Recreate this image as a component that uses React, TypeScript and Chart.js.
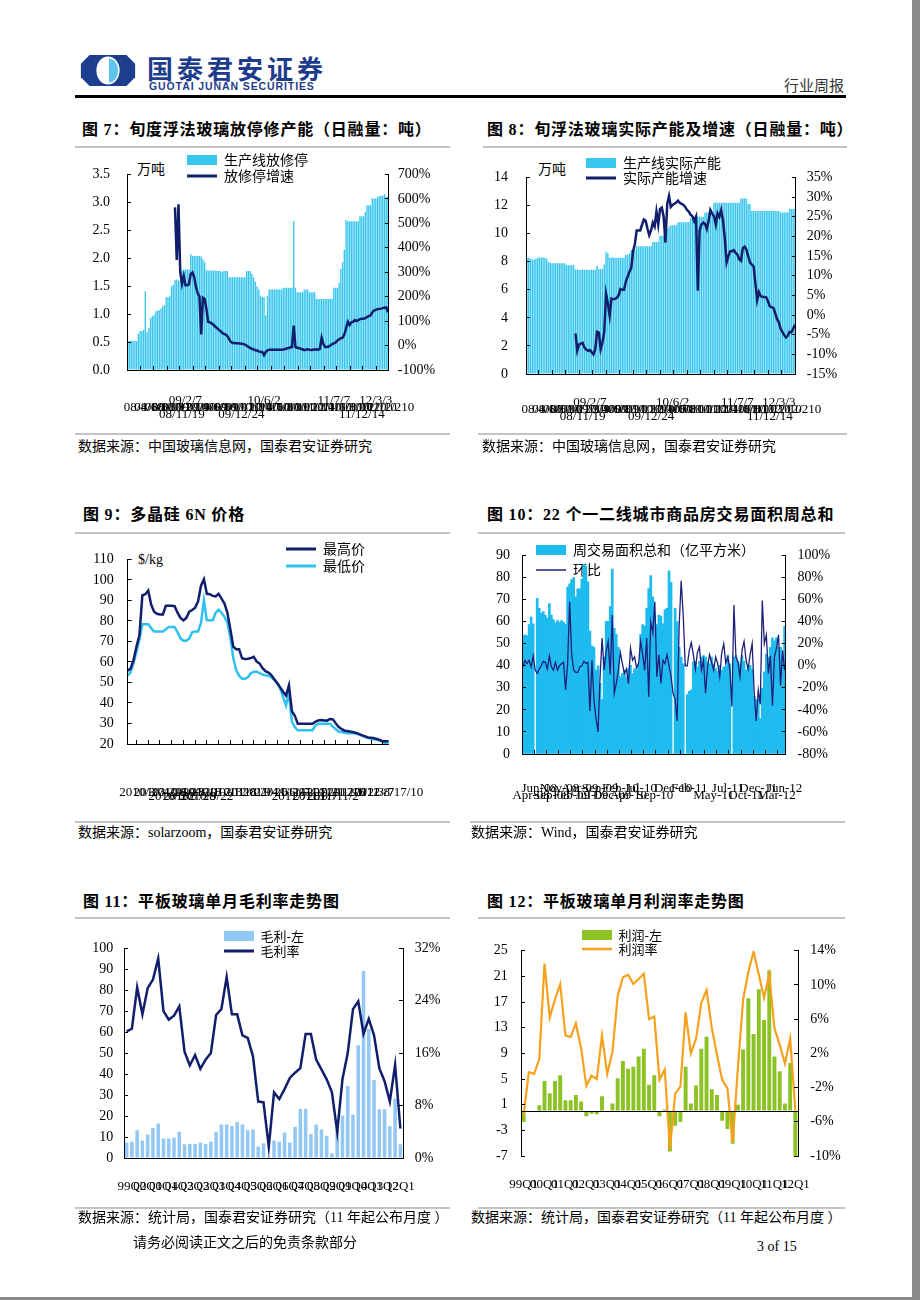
import React, { useEffect, useRef } from 'react';
import { Chart, registerables } from 'chart.js';

Chart.register(...registerables);

const MIX = "'Liberation Serif', 'Noto Sans CJK SC', serif";
const CJK = "'Noto Sans CJK SC', sans-serif";
const NAVY = '#101e6c';
const CYAN = '#38c6ef';
const CYAN10 = '#1ebbef';
const LIGHT = '#2ec0ee';
const BLUE11 = '#93c8f5';
const GREEN = '#8cc224';
const ORANGE = '#f5a11c';

// ---------------- Figure 7 : 放修停产能 ----------------
const c7Bars = [
  0.52, 0.52, 0.53, 0.52, 0.52, 0.52, 0.65, 0.70, 0.70, 0.72, 1.41, 0.68, 0.75,
  0.93, 0.96, 0.98, 1.05, 1.06, 1.07, 1.10, 1.14, 1.16, 1.30, 1.30, 1.32, 1.50, 1.52, 1.61, 1.62, 1.60, 1.62,
  1.78, 1.80, 1.80, 1.80, 1.80, 2.07, 2.04, 2.04, 2.04, 2.04, 2.04, 2.03, 1.98, 1.93,
  1.78, 1.78, 1.78, 1.78, 1.78, 1.78, 1.77, 1.77, 1.77, 1.75, 1.77, 1.77, 1.77,
  1.66, 1.66, 1.66, 1.66, 1.66, 1.66, 1.66, 1.66, 1.66, 1.66,
  1.77, 1.77, 1.77, 1.72, 1.66, 1.58, 1.50, 1.44, 1.33, 1.30, 1.30, 0.98, 1.33,
  1.44, 1.44, 1.44, 1.44, 1.44, 1.44, 1.44, 1.44, 1.47, 1.47, 1.47, 1.47, 1.47, 1.47,
  2.66, 1.47, 1.39, 1.39, 1.39, 1.39, 1.44, 1.44, 1.44, 1.39, 1.39, 1.39, 1.39,
  1.27, 1.27, 1.27, 1.27, 1.27, 1.27, 1.27, 1.27, 1.27, 1.27,
  1.47, 1.47, 1.47, 1.56, 1.81, 1.93, 2.15, 2.69, 2.66, 2.66, 2.66, 2.66, 2.66, 2.66, 2.66,
  2.75, 2.75, 2.75, 2.83, 2.95, 2.95, 2.95, 3.07, 3.07, 3.07, 3.09, 3.12, 3.12, 3.12, 3.15, 3.10, 3.10,
];
const c7Growth = [
  ...Array(27).fill(null),
  565, 350, 578, 300, 253, 285, 247, 247, 250, 292,
  299, 280, 240, 214, 201, 45, 195, 190, 150, 97,
  95, 91, 85, 78, 72, 65, 60, 52, 48, 45,
  39, 26, 15, 10, 10, 9, 9, 8, 7, 6,
  4, 0, -5, -10, -13, -16, -19, -20, -24, -26,
  -26, -39, -26, -20, -17, -17, -17, -17, -17, -17,
  -17, -17, -16, -14, -12, -10, -8, -6, 82, -6,
  -9, -10, -13, -15, -19, -17, -15, -17, -18, -17,
  -16, -15, -17, -14, 32, 6, -6, -6, -4, 0,
  6, 9, 13, 20, 26, 30, 32, 45, 70, 97,
  84, 95, 97, 104, 100, 104, 108, 110, 110, 112,
  117, 120, 123, 135, 143, 146, 149, 150, 151, 153,
  155, 156, 136,
];
const c7RowA = [[33, '09/2/7'], [78, '10/6/2'], [118, '11/7/7'], [142, '12/3/3']];
const c7RowB = [
  [9, '08/4/10'], [15, '08/6/10'], [21, '08/8/10'], [27, '08/10/10'], [33, '08/12/10'], [39, '09/2/10'],
  [45, '09/4/10'], [51, '09/6/10'], [57, '09/8/10'], [63, '09/10/10'], [69, '09/12/10'], [75, '10/2/10'],
  [81, '10/4/10'], [87, '10/6/10'], [93, '10/8/10'], [99, '10/10/10'], [105, '10/12/10'], [111, '11/2/10'],
  [117, '11/4/10'], [123, '11/6/10'], [129, '11/8/10'], [135, '11/10/10'], [141, '11/12/10'], [149, '12/12/210'],
];
const c7RowC = [[31, '08/11/19'], [65, '09/12/24'], [134, '11/12/14']];

// ---------------- Figure 8 : 实际产能 ----------------
const c8Bars = [
  8.27, 8.30, 8.20, 8.15, 8.15, 8.20, 8.27, 8.30, 8.27, 8.30, 8.27, 8.20, 7.95, 7.93,
  7.88, 7.88, 7.88, 7.88, 7.88, 7.88, 7.88, 7.88,
  7.75, 7.75, 7.75, 7.75, 7.75,
  7.45, 7.43, 7.40, 7.43, 7.45, 7.40, 7.43, 7.43, 7.40, 7.45, 7.43, 7.43,
  7.70, 7.48, 7.48, 7.48, 7.80, 8.70, 8.60,
  8.27, 8.27, 8.27, 8.27, 8.27, 8.27, 8.27, 8.27, 8.27,
  8.50, 8.50, 8.60, 8.83, 8.83, 8.83,
  9.10, 9.10, 9.10, 9.10, 9.10, 9.10, 9.10, 9.10, 9.10,
  9.40, 9.40, 9.40, 9.40, 9.84, 9.84, 9.84, 9.84, 10.3, 10.5,
  10.6, 10.6, 10.6, 10.6, 10.8, 10.8, 10.8, 10.8, 10.8, 10.8, 10.8,
  11.1, 11.1, 11.1, 11.2, 11.2, 11.2, 11.2, 11.2, 11.5, 11.5, 11.5, 11.5, 11.5,
  12.2, 12.2, 12.2, 12.2, 12.2, 12.2, 12.2, 12.2, 12.2, 12.2, 12.2, 12.2, 12.2, 12.2, 12.2,
  12.5, 12.5, 12.5, 12.5, 12.1, 12.1,
  11.6, 11.6, 11.6, 11.6, 11.6, 11.6, 11.6, 11.6, 11.6, 11.6, 11.6, 11.6, 11.6, 11.6, 11.6, 11.6,
  11.5, 11.5, 11.5, 11.5, 11.5, 11.75, 11.75, 11.75, 11.75,
];
const c8Growth = [
  ...Array(27).fill(null),
  -4.7, -9.1, -7.5, -7.3, -7.1, -8.3, -8.8, -9.1, -8.9, -9.5,
  -10, -8.7, -4.3, -4.5, -8.7, -7, -4.3, 5.4, 3, -0.2,
  4.2, 4, 4.1, 4.4, 5, 6.6, 6.4, 6.4, 8.5, 9.8,
  11, 12, 16.2, 18, 21.5, 21.5, 21.5, 23, 24.3, 24,
  22, 20.3, 21.5, 23.5, 22.5, 26.3, 23, 27, 27.3, 25,
  18.4, 28.3, 30.3, 27.5, 28, 28.3, 28.6, 29.1, 28.5, 28.3,
  28, 27.5, 26.7, 26.3, 25.5, 25.1, 23.9, 25, 6.2, 21.5,
  23, 23.5, 23.2, 21.9, 24, 26.7, 25.8, 25.1, 23, 25.9,
  25, 26.7, 24, 19.5, 13.4, 15, 16.2, 16.2, 16.5, 15.8,
  15.4, 14.2, 13.8, 17, 17.4, 16.6, 15, 13.4, 12.8, 12.4,
  8.2, 3.8, 5.8, 4.8, 4.6, 4.6, 4.5, 3.5, 2.2, 2.0,
  1.8, 0.5, -1.0, -1.8, -3.5, -4.3, -5.1, -5.7, -5.3, -4.3,
  -4.4, -3.5, -2.5,
];
const c8RowA = [[35, '09/2/7'], [81, '10/6/2'], [117, '11/7/7'], [140, '12/3/3']];
const c8RowB = [
  [8, '08/4/10'], [14, '08/6/10'], [20, '08/8/10'], [26, '08/10/10'], [32, '08/12/10'], [38, '09/2/10'],
  [44, '09/4/10'], [50, '09/6/10'], [56, '09/8/10'], [62, '09/10/10'], [68, '09/12/10'], [74, '10/2/10'],
  [80, '10/4/10'], [86, '10/6/10'], [92, '10/8/10'], [98, '10/10/10'], [104, '10/12/10'], [110, '11/2/10'],
  [116, '11/4/10'], [122, '11/6/10'], [128, '11/8/10'], [134, '11/10/10'], [140, '11/12/10'], [149, '12/12/210'],
];
const c8RowC = [[31, '08/11/19'], [69, '09/12/24'], [135, '11/12/14']];

// ---------------- Figure 9 : 多晶硅价格 ----------------
const c9High = [
  55.7, 56.8, 61, 67.5, 73, 92.5, 93, 94.8, 88, 84.5,
  83.5, 83.1, 83.1, 87.4, 87.4, 87.4, 87.2, 84, 81.5, 80.3,
  81.5, 84.5, 85.3, 86.5, 89.5, 97.2, 100.3, 93.2, 93, 92.2,
  92, 93.2, 90.9, 88.5, 84, 76, 67.5, 66.2, 66.2, 61.8,
  61.5, 61.6, 61.9, 62.5, 60.2, 59.2, 57, 55.5, 54.8, 53.6,
  51.6, 49.8, 47.6, 45.5, 43.6, 48.6, 36, 33.8, 29.9, 29.9,
  29.9, 29.9, 29.9, 29.9, 30.8, 31.5, 31.7, 31.5, 31.4, 32.2,
  32, 30, 28.3, 27.2, 26.5, 26.3, 26, 25.7, 25.4, 24.8,
  24.2, 23.7, 23.2, 23, 22.8, 22.4, 22, 21.3, 21.3, 21.3,
];
const c9Low = [
  53.3, 55, 59.5, 65, 71, 78.4, 78.4, 78.4, 76.5, 74.9,
  74.9, 74.9, 74.9, 76, 77.1, 77.1, 77.1, 74.5, 71.5, 70.3,
  70.3, 71.5, 74.5, 74.9, 74.9, 79, 90.1, 80.3, 80.3, 80.3,
  84, 85.4, 84, 82, 79.2, 72, 62, 56, 53.3, 51.8,
  51.8, 52.5, 54.5, 55.2, 55.2, 54.6, 53.8, 53.5, 53.3, 52.5,
  51.2, 49.4, 47, 43, 38.8, 45, 31, 28.3, 26.7, 26.7,
  26.7, 26.7, 26.7, 26.7, 29, 29.9, 29.9, 29.9, 29.9, 29.9,
  28.5, 27.2, 26, 25.8, 25.5, 25.3, 25.3, 25.3, 25, 24.6,
  24, 23.4, 23, 22.6, 22.3, 22, 21.6, 21, 20.3, 20.2,
];
const c9Row1 = [
  [5, '2010/3/3'], [11, '2010/4/28'], [17, '2010/6/23'], [23, '2010/8/18'], [29, '2010/10/13'],
  [35, '2010/12/8'], [41, '2011/2/9'], [47, '2011/4/6'], [53, '2011/6/1'], [59, '2011/7/27'],
  [65, '2011/9/21'], [71, '2011/11/16'], [77, '2012/1/11'], [83, '2012/3/7'], [89, '2012/8/17/10'],
];
const c9Row2 = [
  [15, '2010/6/2'], [21, '2010/7/28'], [27, '2010/9/22'], [58, '2011/7/13'], [64, '2011/9/7'], [70, '2011/11/2'],
];

// ---------------- Figure 10 : 商品房交易面积 ----------------
const c10Area = [
  53.5, 54, 53.5, 58.6, 62, 59, 0, 70.5, 66, 63.8,
  64.5, 63, 61.6, 68.2, 63, 60.9, 59.4, 60.5, 59.8, 60.5,
  59.8, 58.6, 75.6, 77.1, 79, 80, 71.2, 74.9, 74.9, 79.3,
  86, 85.2, 78, 55.7, 49, 48.3, 38, 40, 32, 24.7,
  43.9, 60.1, 60.1, 66.8, 83.8, 57, 54.2, 48.3, 35, 36.5,
  38, 35, 38.7, 40.2, 36.5, 38.7, 38, 40.9, 54.2, 58.6,
  58, 66, 75, 80.8, 71.2, 63, 58.6, 63, 62.5, 59,
  65.3, 66, 83, 77.8, 0, 66, 60, 48.3, 43.9, 40.9,
  0, 26.9, 28.4, 29.1, 41.7, 42, 39.4, 42, 43.9, 44.6,
  43.9, 41.7, 40.9, 43.9, 40.9, 38.7, 37.5, 40.2, 38, 39.4,
  39.7, 44.6, 40.9, 0, 43.9, 44.6, 42, 40.9, 44.6, 42,
  38, 39.4, 40.2, 38.5, 26.1, 24.7, 25, 16.1, 29.8, 37.2,
  45.3, 43.9, 48.3, 52.7, 51.3, 52.7, 48.3, 48.3, 43.9, 57.9,
];
const c10Chg = [
  -1, 5, 2, 5, -1, 9, -4, -7, -3, 0,
  4, 3, -3, 9, -1, -4, 3, -4, 0, 2,
  3, -22, 2, 58, 10, -4, -6, -6, -1, 0,
  4, 2, 3, -41, 5, -31, -48, -60, -10, 25,
  -4, 13, 22, -8, 46, -25, -16, -4, 12, 2,
  -7, -3, -16, 16, 5, 8, -2, 2, 22, 10,
  -4, 25, -28, 40, 30, 58, -10, 10, -16, 5,
  2, 10, 0, -10, -25, -30, -50, 36, 77, 46,
  0, 0, 14, 21, 10, -3, 12, 17, -4, 5,
  -25, -1, 10, 3, -4, 8, 2, -10, 12, 20,
  2, 8, -3, -37, 55, 8, 3, -10, 14, 22,
  5, -3, 10, 20, -24, -50, -22, -35, 59, 20,
  28, -7, 9, -36, 8, 16, 28, -18, 14, -4,
];
const c10RowU = [
  [8, 'Jun-08'], [18, 'Nov-08'], [28, 'Apr-09'], [38, 'Sep-09'], [48, 'Feb-10'], [58, 'Jul-10'],
  [74, 'Dec-10'], [82, 'Feb-11'], [101, 'Jul-11'], [116, 'Dec-11'], [129, 'Jun-12'],
];
const c10RowL = [
  [4, 'Apr-08'], [14, 'Sep-08'], [24, 'Feb-09'], [34, 'Jul-09'], [44, 'Dec-09'], [52, 'Apr-10'],
  [65, 'Sep-10'], [94, 'May-11'], [110, 'Oct-11'], [125, 'Mar-12'],
];

// ---------------- Figures 11 & 12 : quarterly ----------------
const quarters = [
  '99Q1', '99Q2', '99Q3', '99Q4', '00Q1', '00Q2', '00Q3', '00Q4', '01Q1', '01Q2', '01Q3', '01Q4',
  '02Q1', '02Q2', '02Q3', '02Q4', '03Q1', '03Q2', '03Q3', '03Q4', '04Q1', '04Q2', '04Q3', '04Q4',
  '05Q1', '05Q2', '05Q3', '05Q4', '06Q1', '06Q2', '06Q3', '06Q4', '07Q1', '07Q2', '07Q3', '07Q4',
  '08Q1', '08Q2', '08Q3', '08Q4', '09Q1', '09Q2', '09Q3', '09Q4', '10Q1', '10Q2', '10Q3', '10Q4',
  '11Q1', '11Q2', '11Q3', '11Q4', '12Q1',
];
const c11Gross = [
  7.3, 7.8, 13.2, 8.3, 11.2, 14.3, 16.4, 9.3, 9.3, 9.7,
  12.5, 6.5, 6.7, 6.7, 7.3, 6.7, 7.8, 12.5, 16, 16,
  15.3, 17.1, 16, 13.2, 13.6, 5.5, 7, 0.8, 8.3, 7.8,
  12.1, 7.3, 14.8, 23.4, 23.4, 11.4, 15.9, 13.6, 10.6, 2.3,
  13.6, 20.2, 34.3, 20.7, 53.7, 89.1, 61.5, 37.1, 23.2, 23.2,
  15.2, 28.3, 6.5,
];
const c11Margin = [
  19.3, 19.7, 26, 21.9, 25.9, 27.2, 30.4, 22.4, 21.1, 21.7,
  23.1, 16.2, 14.1, 15.7, 13.6, 15, 16, 21.8, 22.7, 27.6,
  21.9, 21.9, 18.7, 18.3, 15.5, 8.6, 8.5, 1.7, 10, 9,
  10.5, 12.2, 13, 13.7, 18.9, 18.9, 15, 13.5, 12, 10,
  4, 12, 16, 22.7, 23.9, 18.9, 21.2, 18.7, 13.7, 11.7,
  8.6, 14.2, 4.5,
];
const c12Profit = [
  -1.7, 0.1, -0.15, 0.9, 4.7, 2.8, 4.7, 5.6, 1.7, 1.7,
  2.5, 1.5, -0.8, -0.4, -0.5, 2.3, -0.15, 1.2, 5.1, 7.8,
  6.6, 6.9, 8.5, 9.7, 4.1, 5.6, -0.8, 0.25, -6.3, -2.3,
  -1.7, 6.9, 1.2, 4, 9.7, 11.6, 3.4, 2.5, -1.5, -2.8,
  -5.1, 1, 9.6, 17.6, 12, 19, 14.2, 21.9, 8.5, 6.2,
  1.2, 7.5, -7,
];
const c12Rate = [
  -5.2, -0.2, -0.4, 1.3, 12.5, 6.2, 8.3, 10.1, 4.1, 3.9,
  5.5, 2.6, -1.8, -0.6, -1, 4.1, -0.4, 2.2, 8.7, 10.9,
  11.2, 10.1, 10.7, 11.3, 6, 6.3, -1.1, 0.1, -9.2, -2.7,
  -1.9, 6.8, 2, 3.7, 7.9, 9.4, 5, 1.8, -1.1, -2.1,
  -8.4, 0.3, 8.3, 11.5, 13.9, 11.2, 8.5, 11.2, 4.9, 3,
  0.8, 3.7, -4.7,
];
const c11LabelIdx = [1, 4, 7, 10, 13, 16, 19, 22, 25, 28, 31, 34, 37, 40, 43, 46, 49, 52];
const c12LabelIdx = [0, 4, 8, 12, 16, 20, 24, 28, 32, 36, 40, 44, 48, 52];

// ---------------- helpers ----------------
function rowLabels(rows: any[][]) {
  const maps = rows.map((r) => new Map(r.map((p: any) => [p[0], p[1]])));
  return (i: number) => {
    const lines = maps.map((m) => (m.get(i) as string) || '');
    while (lines.length && lines[lines.length - 1] === '') lines.pop();
    if (lines.length === 0) return '';
    return lines.length === 1 ? lines[0] : lines;
  };
}
function pickLabels(idx: number[], names: string[]) {
  const s = new Set(idx);
  return (i: number) => (s.has(i) ? names[i] : '');
}
const indexLabels = (n: number) => Array.from({ length: n }, (_, i) => String(i));

function canvasBox(g: any) {
  return {
    left: g.L - g.lw,
    top: g.T - g.tp,
    width: g.lw + (g.R - g.L) + g.rw + g.rp,
    height: g.tp + (g.B - g.T) + g.xh,
  };
}

function yAxis(pos: string, a: any, width: number) {
  return {
    type: 'linear',
    position: pos,
    min: a.min,
    max: a.max,
    afterBuildTicks: a.zero
      ? (s: any) => {
          if (!s.ticks.some((t: any) => t.value === 0)) {
            s.ticks.push({ value: 0 });
            s.ticks.sort((p: any, q: any) => p.value - q.value);
          }
        }
      : undefined,
    ticks: {
      stepSize: a.step,
      autoSkip: false,
      padding: a.gap + 4,
      color: '#000',
      font: { family: MIX, size: 14 },
      callback: (v: any) => (a.zero && Number(v) === 0 ? '' : a.fmt(Number(v))),
    },
    grid: {
      z: 1,
      drawOnChartArea: !!a.zero,
      drawTicks: true,
      tickLength: -4,
      tickWidth: 1,
      lineWidth: 1,
      color: (c: any) => (a.zero && c.tick && c.tick.value === 0 ? '#000' : 'rgba(0,0,0,0)'),
      tickColor: (c: any) => (a.zero && c.tick && c.tick.value === 0 ? 'rgba(0,0,0,0)' : '#000'),
    },
    border: { display: true, color: '#000', width: 1, z: 1 },
    afterFit: (s: any) => {
      s.width = width;
    },
  };
}

function xAxis(x: any, height: number) {
  return {
    type: 'category',
    position: 'bottom',
    offset: x.offset,
    ticks: {
      autoSkip: false,
      maxRotation: 0,
      minRotation: 0,
      padding: x.pad,
      color: '#000',
      font: { family: MIX, size: x.size, lineHeight: x.lh / x.size },
      callback: (_v: any, i: number) => x.labelFn(i),
    },
    grid: {
      z: 1,
      offset: x.offset,
      drawOnChartArea: false,
      drawTicks: !!x.tickFn,
      tickLength: -4,
      tickWidth: 1,
      tickColor: (c: any) => (x.tickFn && x.tickFn(c.index) ? '#000' : 'rgba(0,0,0,0)'),
    },
    border: { display: x.border, color: '#000', width: 1, z: 1 },
    afterFit: (s: any) => {
      s.height = height;
    },
  };
}

function legendMover(x: number, y: number, pad: number) {
  return {
    id: 'legendMover',
    afterLayout(chart: any) {
      const lg = chart.legend;
      if (!lg) return;
      lg.left = x - pad;
      lg.top = y - pad;
      lg.right = chart.width;
      lg.bottom = chart.height;
    },
  };
}

function buildConfig(s: any) {
  const box = canvasBox(s.geo);
  const scales: any = { x: xAxis(s.x, s.geo.xh), y: yAxis('left', s.yLeft, s.geo.lw) };
  if (s.yRight) scales.y1 = yAxis('right', s.yRight, s.geo.rw);
  const lg = s.legend;
  return {
    type: s.type,
    data: { labels: s.labels, datasets: s.datasets },
    options: {
      responsive: false,
      animation: false,
      devicePixelRatio: 1,
      events: [],
      layout: { autoPadding: false, padding: { top: s.geo.tp, left: 0, right: s.geo.rp, bottom: 0 } },
      scales,
      plugins: {
        tooltip: { enabled: false },
        legend: {
          display: true,
          position: 'chartArea',
          align: 'start',
          labels: {
            usePointStyle: true,
            pointStyleWidth: 30,
            boxHeight: 10,
            padding: lg.pad,
            color: '#000',
            font: { family: CJK, size: lg.size },
            generateLabels: () =>
              lg.items.map((it: any, i: number) => ({
                text: it.text,
                fillStyle: it.color,
                strokeStyle: it.color,
                lineWidth: it.kind === 'line' ? it.lw : 0,
                pointStyle: it.kind === 'line' ? 'line' : 'rect',
                hidden: false,
                datasetIndex: i,
                fontColor: '#000',
              })),
          },
        },
      },
    },
    plugins: [legendMover(lg.x - box.left, lg.y - box.top, lg.pad)],
  };
}

function Panel({ spec }: { spec: any }) {
  const ref = useRef<HTMLCanvasElement | null>(null);
  const box = canvasBox(spec.geo);
  useEffect(() => {
    if (!ref.current) return;
    const chart = new Chart(ref.current, buildConfig(spec) as any);
    return () => chart.destroy();
  }, []);
  return (
    <canvas
      ref={ref}
      width={box.width}
      height={box.height}
      style={{ position: 'absolute', left: box.left, top: box.top, width: box.width, height: box.height }}
    />
  );
}

const pct = (v: number) => `${v}%`;

// ---------------- panel specs ----------------
const spec7 = {
  geo: { L: 127, T: 165, R: 394, B: 370, lw: 50, rw: 52, tp: 20, xh: 60, rp: 0 },
  type: 'bar',
  labels: indexLabels(c7Bars.length),
  datasets: [
    { type: 'line', label: '放修停增速', data: c7Growth, yAxisID: 'y1', borderColor: NAVY, borderWidth: 2.5, pointRadius: 0, tension: 0, order: 0 },
    { type: 'bar', label: '生产线放修停', data: c7Bars, yAxisID: 'y', backgroundColor: CYAN, borderWidth: 0, barPercentage: 0.78, categoryPercentage: 1, order: 1 },
  ],
  yLeft: { min: 0, max: 3.5, step: 0.5, fmt: (v: number) => v.toFixed(1), gap: 17 },
  yRight: { min: -100, max: 700, step: 100, fmt: pct, gap: 9 },
  x: { pad: 31.5, size: 13, lh: 7, labelFn: rowLabels([c7RowA, c7RowB, c7RowC]), tickFn: (i: number) => i > 0 && (i % 15 === 0 || i % 15 === 8), border: true, offset: true },
  legend: { x: 187, y: 153, pad: 2, size: 14, items: [{ text: '生产线放修停', color: CYAN, kind: 'rect' }, { text: '放修停增速', color: NAVY, kind: 'line', lw: 3 }] },
};

const spec8 = {
  geo: { L: 526, T: 167, R: 799, B: 374, lw: 50, rw: 52, tp: 20, xh: 60, rp: 0 },
  type: 'bar',
  labels: indexLabels(c8Bars.length),
  datasets: [
    { type: 'line', label: '实际产能增速', data: c8Growth, yAxisID: 'y1', borderColor: NAVY, borderWidth: 2.5, pointRadius: 0, tension: 0, order: 0 },
    { type: 'bar', label: '生产线实际产能', data: c8Bars, yAxisID: 'y', backgroundColor: CYAN, borderWidth: 0, barPercentage: 0.78, categoryPercentage: 1, order: 1 },
  ],
  yLeft: { min: 0, max: 14, step: 2, fmt: (v: number) => String(v), gap: 18 },
  yRight: { min: -15, max: 35, step: 5, fmt: pct, gap: 11 },
  x: { pad: 29.5, size: 13, lh: 7, labelFn: rowLabels([c8RowA, c8RowB, c8RowC]), tickFn: (i: number) => i > 0 && (i % 15 === 0 || i % 15 === 7), border: true, offset: true },
  legend: { x: 586, y: 156, pad: 1, size: 14, items: [{ text: '生产线实际产能', color: CYAN, kind: 'rect' }, { text: '实际产能增速', color: NAVY, kind: 'line', lw: 3 }] },
};

const spec9 = {
  geo: { L: 127, T: 553, R: 424, B: 744, lw: 50, rw: 0, tp: 20, xh: 70, rp: 50 },
  type: 'line',
  labels: indexLabels(c9High.length),
  datasets: [
    { label: '最高价', data: c9High, yAxisID: 'y', borderColor: NAVY, borderWidth: 2.5, pointRadius: 0, tension: 0, order: 0 },
    { label: '最低价', data: c9Low, yAxisID: 'y', borderColor: LIGHT, borderWidth: 2.5, pointRadius: 0, tension: 0, order: 1 },
  ],
  yLeft: { min: 20, max: 110, step: 10, fmt: (v: number) => String(v), gap: 14 },
  yRight: null,
  x: { pad: 50.7, size: 13, lh: 4, labelFn: rowLabels([c9Row1, c9Row2]), tickFn: (i: number) => i % 4 === 3, border: true, offset: false },
  legend: { x: 286, y: 542, pad: 3, size: 14, items: [{ text: '最高价', color: NAVY, kind: 'line', lw: 3 }, { text: '最低价', color: LIGHT, kind: 'line', lw: 3 }] },
};

const spec10 = {
  geo: { L: 522, T: 551, R: 786, B: 754, lw: 50, rw: 52, tp: 20, xh: 60, rp: 0 },
  type: 'bar',
  labels: indexLabels(c10Area.length),
  datasets: [
    { type: 'line', label: '环比', data: c10Chg, yAxisID: 'y1', borderColor: '#1f1f7a', borderWidth: 1.3, pointRadius: 0, tension: 0, order: 0 },
    { type: 'bar', label: '周交易面积总和（亿平方米）', data: c10Area, yAxisID: 'y', backgroundColor: CYAN10, borderWidth: 0, barPercentage: 1, categoryPercentage: 1, order: 1 },
  ],
  yLeft: { min: 0, max: 90, step: 10, fmt: (v: number) => String(v), gap: 12 },
  yRight: { min: -80, max: 100, step: 20, fmt: pct, gap: 12 },
  x: { pad: 35.5, size: 13, lh: 7, labelFn: rowLabels([c10RowU, c10RowL]), tickFn: (i: number) => i > 0 && i % 6 === 0, border: true, offset: true },
  legend: { x: 536, y: 543, pad: 6, size: 14, items: [{ text: '周交易面积总和（亿平方米）', color: CYAN10, kind: 'rect' }, { text: '环比', color: '#1f1f7a', kind: 'line', lw: 1.5 }] },
};

const spec11 = {
  geo: { L: 124, T: 944, R: 403, B: 1158, lw: 50, rw: 52, tp: 20, xh: 50, rp: 0 },
  type: 'bar',
  labels: quarters,
  datasets: [
    { type: 'line', label: '毛利率', data: c11Margin, yAxisID: 'y1', borderColor: NAVY, borderWidth: 2.5, pointRadius: 0, tension: 0, order: 0 },
    { type: 'bar', label: '毛利-左', data: c11Gross, yAxisID: 'y', backgroundColor: BLUE11, borderWidth: 0, barPercentage: 0.68, categoryPercentage: 1, order: 1 },
  ],
  yLeft: { min: 0, max: 100, step: 10, fmt: (v: number) => String(v), gap: 10.7 },
  yRight: { min: 0, max: 32, step: 8, fmt: pct, gap: 11.7 },
  x: { pad: 21, size: 13, lh: 15.6, labelFn: pickLabels(c11LabelIdx, quarters), tickFn: null, border: true, offset: true },
  legend: { x: 224, y: 929.5, pad: 2, size: 13, items: [{ text: '毛利-左', color: BLUE11, kind: 'rect' }, { text: '毛利率', color: NAVY, kind: 'line', lw: 3 }] },
};

const spec12 = {
  geo: { L: 521, T: 945, R: 798, B: 1156, lw: 50, rw: 55, tp: 20, xh: 50, rp: 0 },
  type: 'bar',
  labels: quarters,
  datasets: [
    { type: 'line', label: '利润率', data: c12Rate, yAxisID: 'y1', borderColor: ORANGE, borderWidth: 2.2, pointRadius: 0, tension: 0, order: 0 },
    { type: 'bar', label: '利润-左', data: c12Profit, yAxisID: 'y', backgroundColor: GREEN, borderWidth: 0, barPercentage: 0.75, categoryPercentage: 1, order: 1 },
  ],
  yLeft: { min: -7, max: 25, step: 4, fmt: (v: number) => String(v), gap: 13.3, zero: true },
  yRight: { min: -10, max: 14, step: 4, fmt: pct, gap: 12.3 },
  x: { pad: 20.5, size: 13, lh: 15.6, labelFn: pickLabels(c12LabelIdx, quarters), tickFn: null, border: false, offset: true },
  legend: { x: 582, y: 928.5, pad: 1, size: 13, items: [{ text: '利润-左', color: GREEN, kind: 'rect' }, { text: '利润率', color: ORANGE, kind: 'line', lw: 2.5 }] },
};

// ---------------- page text ----------------
function Txt({ x, cy, size, children, bold, family, color, ls }: any) {
  return (
    <div
      style={{
        position: 'absolute',
        left: x,
        top: cy - size * 0.5,
        fontSize: size,
        lineHeight: 1,
        whiteSpace: 'nowrap',
        fontFamily: family || MIX,
        fontWeight: bold ? 700 : 400,
        color: color || '#000',
        letterSpacing: ls || 0,
      }}
    >
      {children}
    </div>
  );
}

function HLine({ x1, x2, y, h, color }: any) {
  return <div style={{ position: 'absolute', left: x1, top: y, width: x2 - x1, height: h, background: color }} />;
}

function Logo() {
  return (
    <svg width={56} height={31} viewBox="0 0 56 32" style={{ position: 'absolute', left: 80, top: 55 }}>
      <polygon points="9,0 47,0 56,9 56,23 47,32 9,32 0,23 0,9" fill="#1d3d8f" />
      <ellipse cx={28} cy={16} rx={12} ry={14.5} fill="#ffffff" />
      <path d="M29,3.5 A9.5,12.5 0 0 1 29,28.5 Z" fill="#5ec4ec" />
    </svg>
  );
}

export default function App() {
  const GRAY = '#c4c4c4';
  return (
    <div style={{ position: 'absolute', left: 0, top: 0, width: 920, height: 1300, background: '#fff', overflow: 'hidden' }}>
      {/* header */}
      <Logo />
      <Txt x={147} cy={68} size={26} bold family={CJK} color="#1e3c8c" ls={4}>国泰君安证券</Txt>
      <Txt x={149} cy={86} size={10.5} bold family="'Liberation Sans', sans-serif" color="#1e3c8c" ls={0.9}>GUOTAI JUNAN SECURITIES</Txt>
      <Txt x={784} cy={84} size={15} family={CJK} color="#333">行业周报</Txt>
      <HLine x1={75} x2={846} y={95} h={3} color="#000" />

      {/* figure 7 */}
      <Txt x={82} cy={130} size={16} bold ls={0.8}>图 7：旬度浮法玻璃放停修产能（日融量：吨）</Txt>
      <HLine x1={75} x2={450} y={146} h={2} color={GRAY} />
      <Txt x={137} cy={168} size={14} family={CJK}>万吨</Txt>
      <Panel spec={spec7} />
      <HLine x1={75} x2={450} y={433} h={2} color={GRAY} />
      <Txt x={78} cy={447} size={14}>数据来源：中国玻璃信息网，国泰君安证券研究</Txt>

      {/* figure 8 */}
      <Txt x={487} cy={130} size={16} bold ls={0.8}>图 8：旬浮法玻璃实际产能及增速（日融量：吨）</Txt>
      <HLine x1={483} x2={847} y={146} h={2} color={GRAY} />
      <Txt x={538} cy={168} size={14} family={CJK}>万吨</Txt>
      <Panel spec={spec8} />
      <HLine x1={478} x2={847} y={433} h={2} color={GRAY} />
      <Txt x={482} cy={447} size={14}>数据来源：中国玻璃信息网，国泰君安证券研究</Txt>

      {/* figure 9 */}
      <Txt x={83} cy={515} size={16} bold ls={0.8}>图 9：多晶硅 6N 价格</Txt>
      <HLine x1={75} x2={450} y={532} h={2} color={GRAY} />
      <Txt x={138} cy={560} size={14}>$/kg</Txt>
      <Panel spec={spec9} />
      <HLine x1={75} x2={450} y={821} h={2} color={GRAY} />
      <Txt x={78} cy={833} size={14}>数据来源：solarzoom，国泰君安证券研究</Txt>

      {/* figure 10 */}
      <Txt x={487} cy={515} size={16} bold ls={0.8}>图 10：22 个一二线城市商品房交易面积周总和</Txt>
      <HLine x1={478} x2={845} y={532} h={2} color={GRAY} />
      <Panel spec={spec10} />
      <HLine x1={470} x2={845} y={821} h={2} color={GRAY} />
      <Txt x={471} cy={833} size={14}>数据来源：Wind，国泰君安证券研究</Txt>

      {/* figure 11 */}
      <Txt x={83} cy={902} size={16} bold ls={0.8}>图 11：平板玻璃单月毛利率走势图</Txt>
      <HLine x1={75} x2={450} y={917} h={2} color={GRAY} />
      <Panel spec={spec11} />
      <HLine x1={75} x2={450} y={1207} h={2} color={GRAY} />
      <Txt x={78} cy={1218} size={14}>数据来源：统计局，国泰君安证券研究（11 年起公布月度 ）</Txt>
      <Txt x={133} cy={1243} size={14}>请务必阅读正文之后的免责条款部分</Txt>

      {/* figure 12 */}
      <Txt x={487} cy={902} size={16} bold ls={0.8}>图 12：平板玻璃单月利润率走势图</Txt>
      <HLine x1={478} x2={845} y={917} h={2} color={GRAY} />
      <Panel spec={spec12} />
      <HLine x1={478} x2={845} y={1207} h={2} color={GRAY} />
      <Txt x={471} cy={1218} size={14}>数据来源：统计局，国泰君安证券研究（11 年起公布月度 ）</Txt>
      <Txt x={757} cy={1247} size={14}>3 of 15</Txt>

      {/* page edge shadow */}
      <div style={{ position: 'absolute', left: 912, top: 0, width: 8, height: 1300, background: '#8a8a8a' }} />
      <div style={{ position: 'absolute', left: 0, top: 1297, width: 920, height: 3, background: '#8a8a8a' }} />
    </div>
  );
}
